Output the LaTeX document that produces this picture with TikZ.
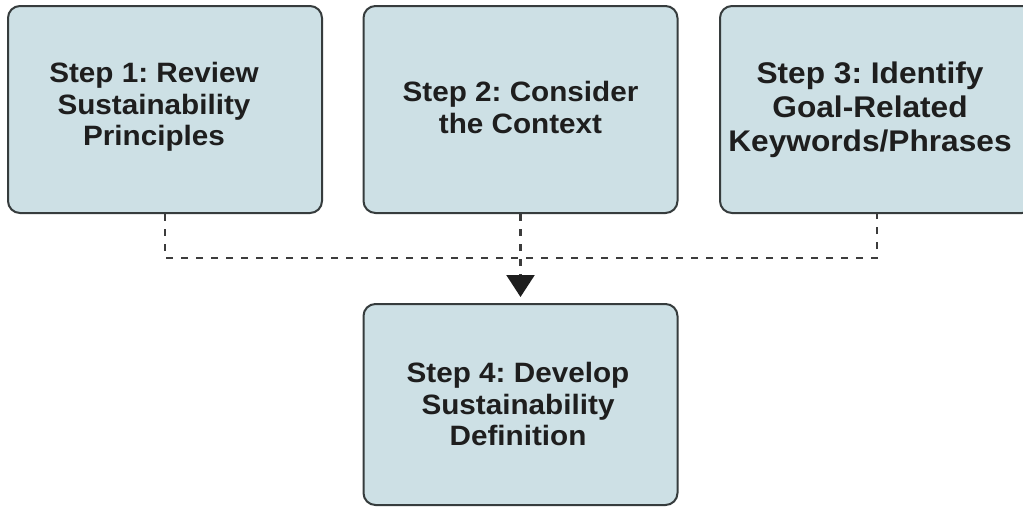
\documentclass[tikz,border=0pt]{standalone}
\usepackage{fontspec}
\usetikzlibrary{arrows.meta}
\newfontfamily\stepfont[FakeStretch=1.06]{Liberation Sans}
\definecolor{boxfill}{HTML}{CDE0E5}
\definecolor{boxline}{HTML}{363C3D}
\definecolor{linkgray}{HTML}{3C3C3C}
\definecolor{inkdark}{HTML}{1E1E1E}
\tikzset{
  stepbox/.style={draw=boxline, line width=1.5pt, fill=boxfill,
    rounded corners=9pt, minimum width=235.5pt, inner sep=0pt},
  steptext/.style={align=center, text=inkdark, inner sep=0pt,
    font=\stepfont\bfseries\frenchspacing\fontsize{21pt}{23.8pt}\selectfont},
  bigtext/.style={steptext,
    font=\stepfont\bfseries\frenchspacing\fontsize{22.4pt}{25.4pt}\selectfont},
  link/.style={draw=linkgray, line width=1.8pt, dash pattern=on 5.25pt off 6pt},
}
\begin{document}
\begin{tikzpicture}[x=0.75pt,y=-0.75pt]
\useasboundingbox (0,0) rectangle (1023,507);
\clip (0,0) rectangle (1023,507);
\fill[white] (0,0) rectangle (1023,507);

% the four step boxes
\node[stepbox, minimum height=155.25pt] (s1) at (165,109.5) {};
\node[stepbox, minimum height=155.25pt] (s2) at (520.5,109.5) {};
\node[stepbox, minimum height=155.25pt] (s3) at (877,109.5) {};
\node[stepbox, minimum height=150.75pt] (s4) at (520.5,404.5) {};

% box captions
\node[steptext] (t1) at (154,107) {Step 1: Review\\Sustainability\\Principles};
\node[steptext] (t2) at (520.5,107.5) {Step 2: Consider\\the Context};
\node[bigtext]  (t3) at (870,110) {Step 3: Identify\\Goal-Related\\Keywords/Phrases};
\node[steptext] (t4) at (518,404) {Step 4: Develop\\Sustainability\\Definition};

% dashed connectors merging into step 4
\coordinate (j) at (s2.south |- 0,258);
\draw[link] (s1.south) |- (j) -| (s3.south);
\draw[link, -{Triangle[length=16.5pt, width=21pt, fill=inkdark, color=inkdark]},
      shorten >=4.5pt] (s2.south) -- (s4.north);
\end{tikzpicture}
\end{document}
